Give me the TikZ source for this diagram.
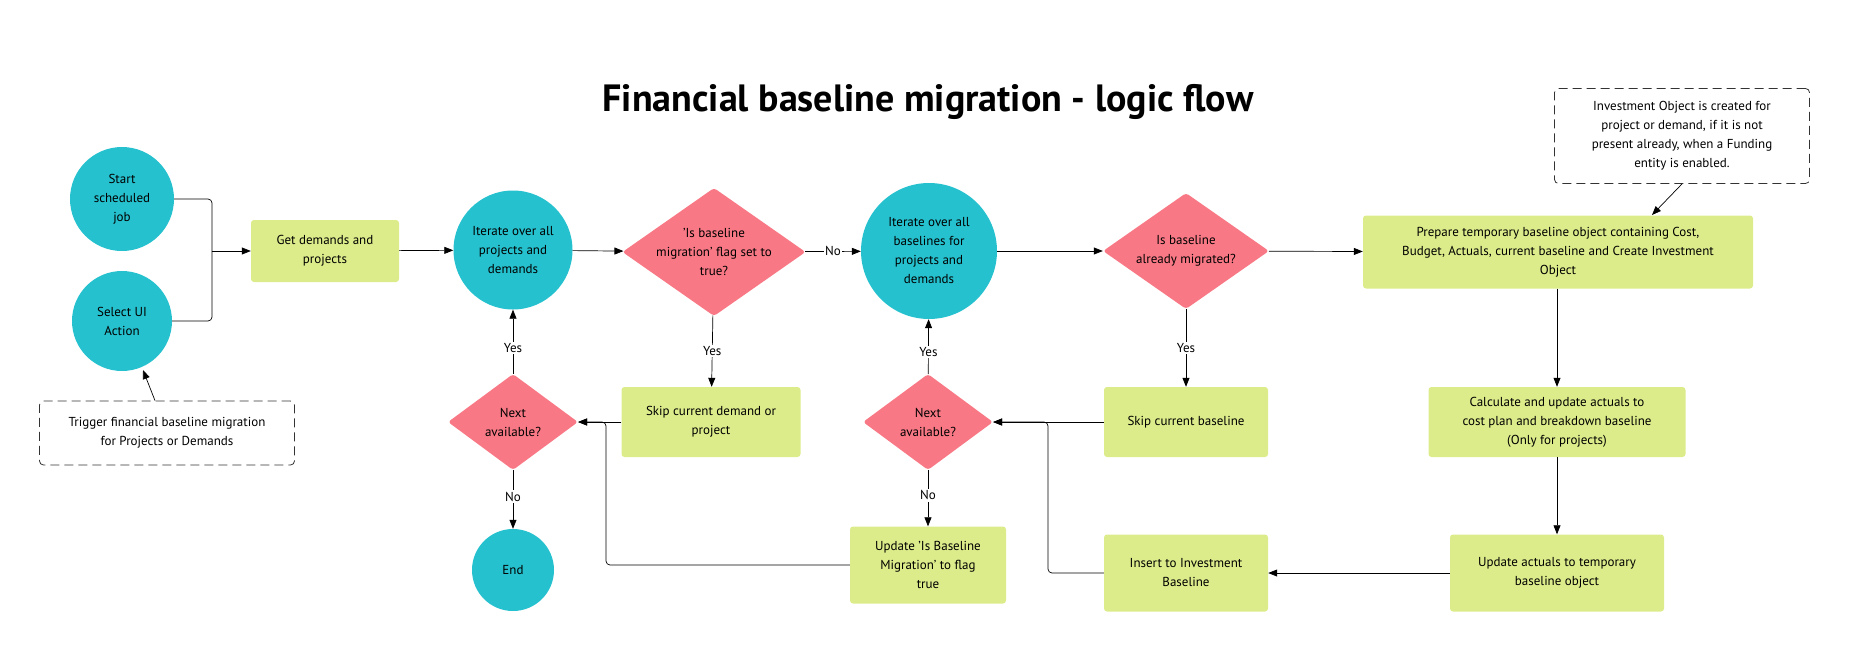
\documentclass[tikz,border=0pt]{standalone}
\usepackage{fontspec}
\setmainfont{PT Sans}
\usetikzlibrary{shapes.geometric,arrows.meta}
\definecolor{teal}{HTML}{25C1CE}
\definecolor{pinkd}{HTML}{F87985}
\definecolor{greenb}{HTML}{DCEC8A}
\begin{document}
\begin{tikzpicture}[x=1pt,y=-1pt,
  txt/.style={font=\fontsize{13}{19}\selectfont,align=center,text=black},
  circ/.style={txt,circle,fill=teal,inner sep=0},
  dia/.style={txt,diamond,fill=pinkd,inner sep=0,aspect=1.43,rounded corners=3pt},
  box/.style={txt,rectangle,fill=greenb,rounded corners=3pt,inner sep=2pt},
  note/.style={txt,rectangle,draw=black!80,dash pattern=on 9pt off 5pt,rounded corners=4pt,line width=0.8pt,inner sep=2pt},
  arr/.style={-{Triangle[length=9pt,width=7pt]},line width=0.7pt},
  ln/.style={line width=0.7pt},
  lab/.style={txt,fill=white,inner sep=1.5pt}]
\useasboundingbox (0,0) rectangle (1850,654);
\node[font=\bfseries\fontsize{38}{40}\selectfont] (title) at (928,102) {Financial baseline migration - logic flow};
\node[circ,minimum size=104pt] (start) at (122,199) {Start\\scheduled\\job};
\node[circ,minimum size=100pt] (ui) at (122,321) {Select UI\\Action};
\node[note,minimum width=255pt,minimum height=64pt] (trig) at (167,433) {Trigger financial baseline migration\\for Projects or Demands};
\node[box,minimum width=148pt,minimum height=62pt] (get) at (325,251) {Get demands and\\projects};
\node[circ,minimum size=119pt] (it1) at (513,250) {Iterate over all\\projects and\\demands};
\node[dia,minimum width=166pt,minimum height=116pt] (d1) at (714,252) {'Is baseline\\migration' flag set to\\true?};
\node[circ,minimum size=136pt] (it2) at (929,251) {Iterate over all\\baselines for\\projects and\\demands};
\node[dia,minimum width=166pt,minimum height=116pt] (d2) at (1186,251) {Is baseline\\already migrated?};
\node[box,minimum width=390pt,minimum height=73pt] (prep) at (1558,252) {Prepare temporary baseline object containing Cost,\\Budget, Actuals, current baseline and Create Investment\\Object};
\node[note,minimum width=255pt,minimum height=95pt] (inv) at (1682,136) {Investment Object is created for\\project or demand, if it is not\\present already, when a Funding\\entity is enabled.};
\node[box,minimum width=179pt,minimum height=70pt] (skip1) at (711,422) {Skip current demand or\\project};
\node[dia,minimum width=130pt,minimum height=96pt] (n1) at (513,422) {Next\\available?};
\node[circ,minimum size=82pt] (end) at (513,570) {End};
\node[dia,minimum width=130pt,minimum height=96pt] (n2) at (928,422) {Next\\available?};
\node[box,minimum width=156pt,minimum height=77pt] (upd1) at (928,565) {Update 'Is Baseline\\Migration' to flag\\true};
\node[box,minimum width=164pt,minimum height=70pt] (skip2) at (1186,422) {Skip current baseline};
\node[box,minimum width=257pt,minimum height=70pt] (calc) at (1557,422) {Calculate and update actuals to\\cost plan and breakdown baseline\\(Only for projects)};
\node[box,minimum width=214pt,minimum height=77pt] (upda) at (1557,573) {Update actuals to temporary\\baseline object};
\node[box,minimum width=164pt,minimum height=77pt] (ins) at (1186,573) {Insert to Investment\\Baseline};
\coordinate (j) at (212,251);
\draw[ln,rounded corners=4pt] (start.east) -| (j);
\draw[ln,rounded corners=4pt] (ui.east) -| (j);
\draw[arr] (j) -- (get.west);
\draw[arr] (trig.north -| 155,0) -- (143,370);
\draw[arr] (get) -- (it1);
\draw[arr] (it1) -- (d1);
\draw[arr] (d1) -- node[lab]{No} (it2);
\draw[arr] (d1) -- node[lab]{Yes} (skip1);
\draw[arr] (skip1) -- (n1);
\draw[arr] (n1) -- node[lab,pos=0.4]{Yes} (it1);
\draw[arr] (n1) -- node[lab,pos=0.45]{No} (end);
\draw[arr,rounded corners=4pt] (upd1.west) -| (606,422) -- (n1.east);
\draw[arr] (it2) -- (d2);
\draw[arr] (d2) -- (prep);
\draw[arr] (d2) -- node[lab]{Yes} (skip2);
\draw[arr] (skip2) -- (n2);
\draw[arr] (n2) -- node[lab,pos=0.4]{Yes} (it2);
\draw[arr] (n2) -- node[lab,pos=0.45]{No} (upd1);
\draw[arr] (inv.south) -- (1652,215);
\draw[arr] (prep.south -| calc.north) -- (calc.north);
\draw[arr] (calc) -- (upda);
\draw[arr] (upda) -- (ins);
\draw[arr,rounded corners=4pt] (ins.west) -| (1048,422) -- (n2.east);
\end{tikzpicture}
\end{document}
